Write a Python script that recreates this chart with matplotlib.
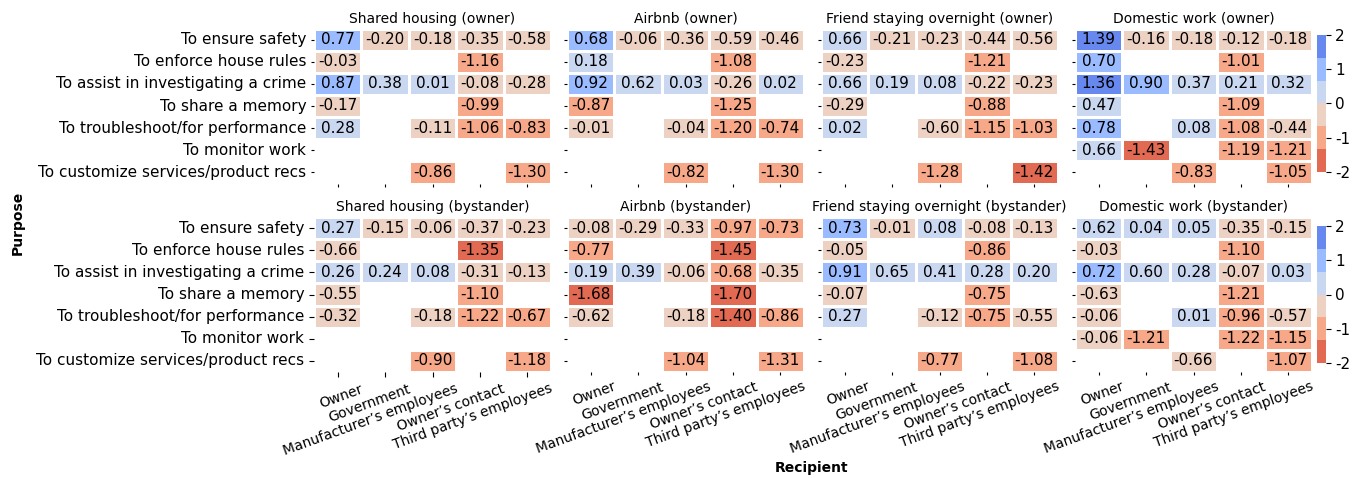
import numpy as np
import pandas as pd
import seaborn as sns
import matplotlib.pyplot as plt
from matplotlib.colors import ListedColormap
from matplotlib.transforms import ScaledTranslation

plt.rcParams['axes.unicode_minus'] = False

nan = np.nan

recipients = ['Owner', 'Government', 'Manufacturer’s employees', 'Owner’s contact', 'Third party’s employees']
purposes = ['To ensure safety', 'To enforce house rules', 'To assist in investigating a crime',
            'To share a memory', 'To troubleshoot/for performance', 'To monitor work',
            'To customize services/product recs']
scenarios = ['Shared housing', 'Airbnb', 'Friend staying overnight', 'Domestic work']

# owner perspective
shared_owner = [[0.77, -0.20, -0.18, -0.35, -0.58],
                [-0.03, nan, nan, -1.16, nan],
                [0.87, 0.38, 0.01, -0.08, -0.28],
                [-0.17, nan, nan, -0.99, nan],
                [0.28, nan, -0.11, -1.06, -0.83],
                [nan, nan, nan, nan, nan],
                [nan, nan, -0.86, nan, -1.30]]
airbnb_owner = [[0.68, -0.06, -0.36, -0.59, -0.46],
                [0.18, nan, nan, -1.08, nan],
                [0.92, 0.62, 0.03, -0.26, 0.02],
                [-0.87, nan, nan, -1.25, nan],
                [-0.01, nan, -0.04, -1.20, -0.74],
                [nan, nan, nan, nan, nan],
                [nan, nan, -0.82, nan, -1.30]]
friend_owner = [[0.66, -0.21, -0.23, -0.44, -0.56],
                [-0.23, nan, nan, -1.21, nan],
                [0.66, 0.19, 0.08, -0.22, -0.23],
                [-0.29, nan, nan, -0.88, nan],
                [0.02, nan, -0.60, -1.15, -1.03],
                [nan, nan, nan, nan, nan],
                [nan, nan, -1.28, nan, -1.42]]
domestic_owner = [[1.39, -0.16, -0.18, -0.12, -0.18],
                  [0.70, nan, nan, -1.01, nan],
                  [1.36, 0.90, 0.37, 0.21, 0.32],
                  [0.47, nan, nan, -1.09, nan],
                  [0.78, nan, 0.08, -1.08, -0.44],
                  [0.66, -1.43, nan, -1.19, -1.21],
                  [nan, nan, -0.83, nan, -1.05]]

# bystander perspective
shared_bystander = [[0.27, -0.15, -0.06, -0.37, -0.23],
                    [-0.66, nan, nan, -1.35, nan],
                    [0.26, 0.24, 0.08, -0.31, -0.13],
                    [-0.55, nan, nan, -1.10, nan],
                    [-0.32, nan, -0.18, -1.22, -0.67],
                    [nan, nan, nan, nan, nan],
                    [nan, nan, -0.90, nan, -1.18]]
airbnb_bystander = [[-0.08, -0.29, -0.33, -0.97, -0.73],
                    [-0.77, nan, nan, -1.45, nan],
                    [0.19, 0.39, -0.06, -0.68, -0.35],
                    [-1.68, nan, nan, -1.70, nan],
                    [-0.62, nan, -0.18, -1.40, -0.86],
                    [nan, nan, nan, nan, nan],
                    [nan, nan, -1.04, nan, -1.31]]
friend_bystander = [[0.73, -0.01, 0.08, -0.08, -0.13],
                    [-0.05, nan, nan, -0.86, nan],
                    [0.91, 0.65, 0.41, 0.28, 0.20],
                    [-0.07, nan, nan, -0.75, nan],
                    [0.27, nan, -0.12, -0.75, -0.55],
                    [nan, nan, nan, nan, nan],
                    [nan, nan, -0.77, nan, -1.08]]
domestic_bystander = [[0.62, 0.04, 0.05, -0.35, -0.15],
                      [-0.03, nan, nan, -1.10, nan],
                      [0.72, 0.60, 0.28, -0.07, 0.03],
                      [-0.63, nan, nan, -1.21, nan],
                      [-0.06, nan, 0.01, -0.96, -0.57],
                      [-0.06, -1.21, nan, -1.22, -1.15],
                      [nan, nan, -0.66, nan, -1.07]]

rows = [('owner', [shared_owner, airbnb_owner, friend_owner, domestic_owner]),
        ('bystander', [shared_bystander, airbnb_bystander, friend_bystander, domestic_bystander])]

cmap = ListedColormap(sns.color_palette('coolwarm_r', 6))

W, H = 1361, 478
fig = plt.figure(figsize=(W / 100, H / 100), dpi=100)

lefts = [314, 567, 821, 1075]
panel_w = 237
row_tops = [28.5, 217]
panel_h = 155
cbar_tops = [35, 226]
cbar_h = 137

for r, (role, tables) in enumerate(rows):
    for c, table in enumerate(tables):
        ax = fig.add_axes([lefts[c] / W, 1 - (row_tops[r] + panel_h) / H, panel_w / W, panel_h / H])
        df = pd.DataFrame(table, index=purposes, columns=recipients)
        last = c == 3
        cax = None
        if last:
            cax = fig.add_axes([1317 / W, 1 - (cbar_tops[r] + cbar_h) / H, 8.5 / W, cbar_h / H])
        sns.heatmap(df, ax=ax, cmap=cmap, vmin=-2, vmax=2, annot=True, fmt='.2f',
                    annot_kws={'size': 11, 'color': 'black'}, linewidths=1, linecolor='white',
                    cbar=last, cbar_ax=cax)
        ax.set_title(f'{scenarios[c]} ({role})', fontsize=10, pad=4)
        ax.set_xlabel('')
        ax.set_ylabel('')
        ax.tick_params(axis='y', labelsize=11)
        ax.set_yticklabels(purposes, rotation=0)
        if c > 0:
            ax.tick_params(labelleft=False, length=2)
        if r == 0:
            ax.tick_params(labelbottom=False, length=2)
        else:
            ax.set_xticklabels(recipients, rotation=20, ha='right', rotation_mode='anchor', fontsize=10)
            shift = ScaledTranslation(16 / 72, 0, fig.dpi_scale_trans)
            for lab in ax.get_xticklabels():
                lab.set_transform(lab.get_transform() + shift)
        if last:
            cb = ax.collections[0].colorbar
            cb.set_ticks([-2, -1, 0, 1, 2])
            cb.ax.tick_params(labelsize=11)

fig.text(17.5 / W, 1 - 223 / H, 'Purpose', rotation=90, fontsize=10, fontweight='bold',
         ha='center', va='center')
fig.text(812 / W, 1 - 468 / H, 'Recipient', fontsize=10, fontweight='bold',
         ha='center', va='center')

fig.savefig('out.png', dpi=100)
